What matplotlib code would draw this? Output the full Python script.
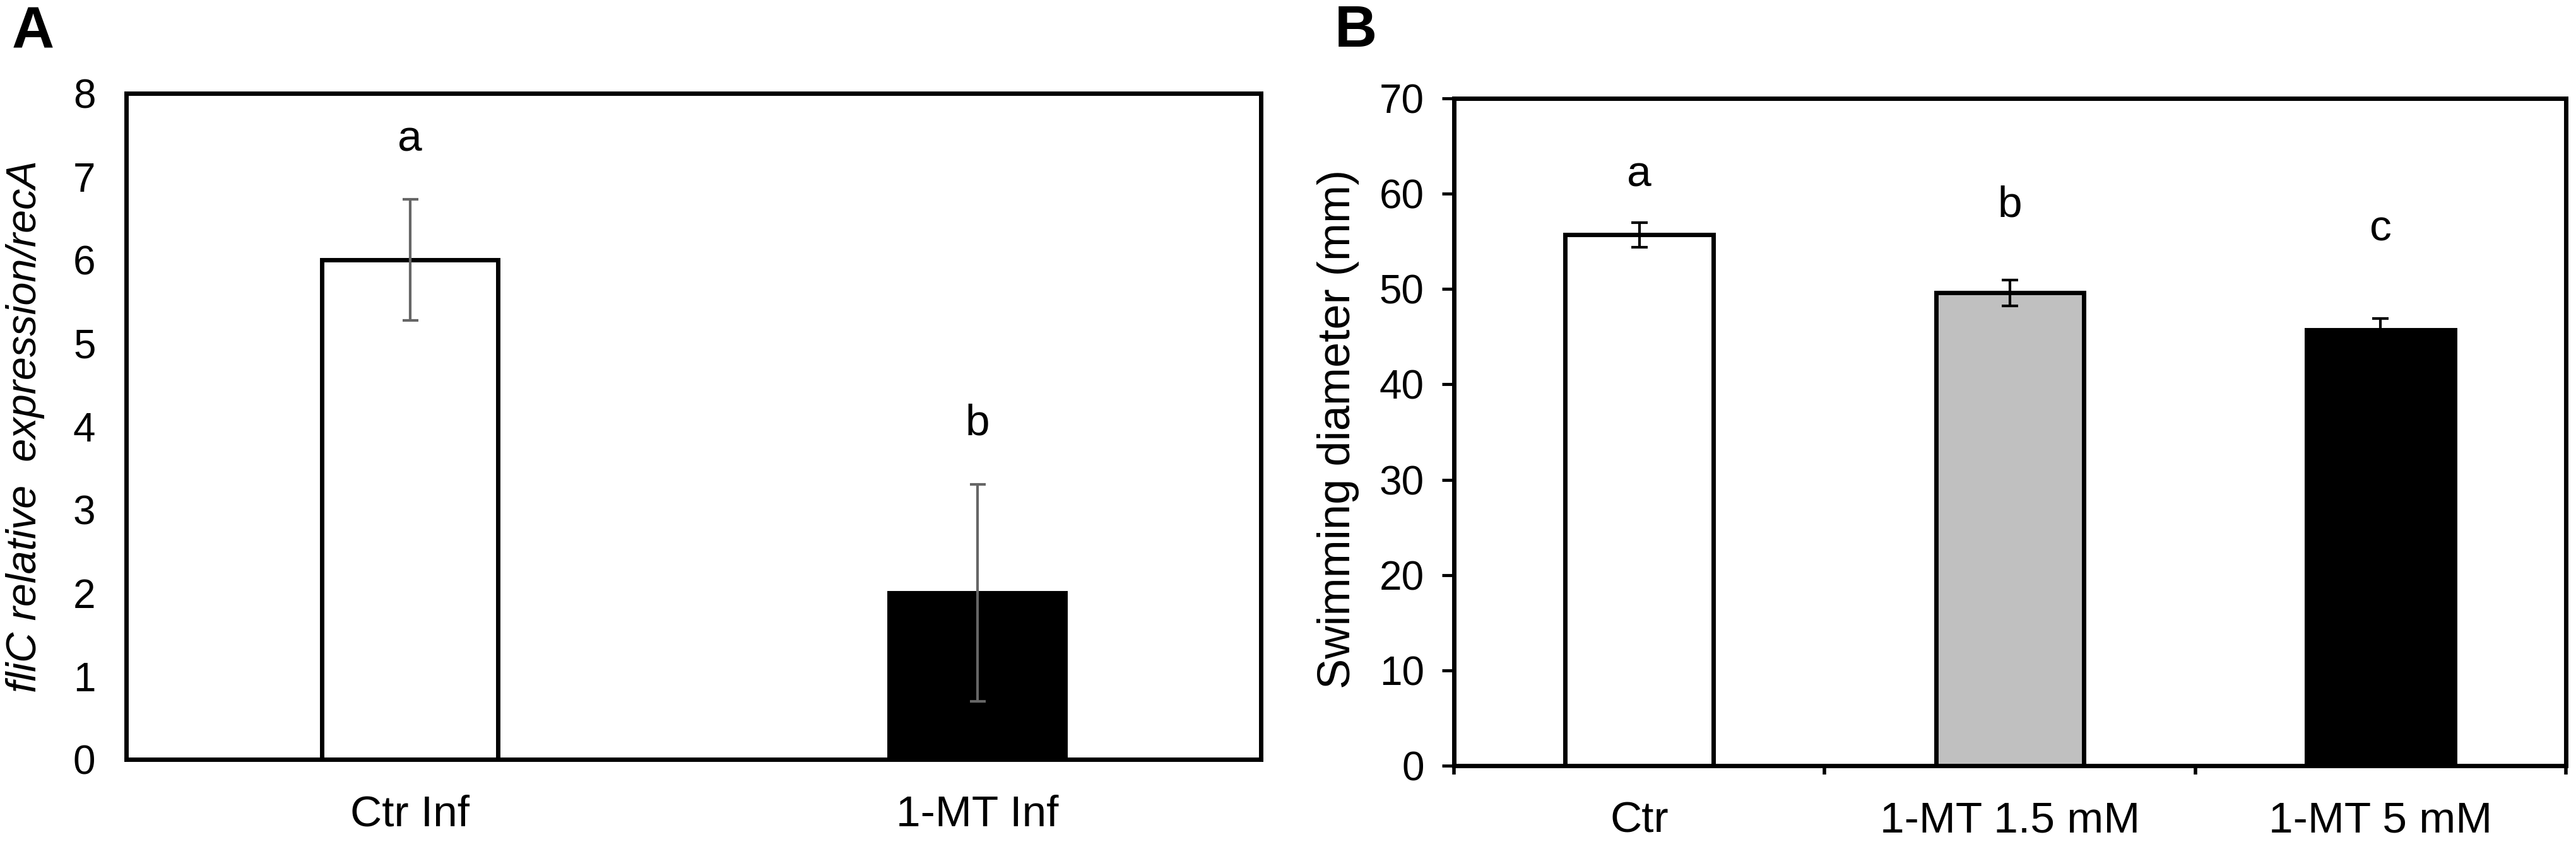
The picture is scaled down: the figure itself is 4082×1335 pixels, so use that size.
import numpy as np
import matplotlib.pyplot as plt

plt.rcParams['font.family'] = ['Liberation Sans', 'DejaVu Sans']

# panel A data
catA = ['Ctr Inf', '1-MT Inf']
valA = [6.0, 2.0]
errA = [0.73, 1.30]
colA = ['white', 'black']
sigA = ['a', 'b']
sigA_y = [7.31, 3.90]

# panel B data
catB = ['Ctr', '1-MT 1.5 mM', '1-MT 5 mM']
valB = [55.7, 49.6, 45.7]
errB = [1.3, 1.35, 1.2]
colB = ['white', '#c0c0c0', 'black']
sigB = ['a', 'b', 'c']
sigB_y = [60.8, 57.6, 55.1]

fig = plt.figure(figsize=(40.82, 13.35), dpi=100)

LW = 5
tick_fs = 46
cat_fs = 50

# ---- A ----
axA = fig.add_axes([0.0490, 0.0981, 0.4405, 0.7910])
xA = np.arange(len(catA))
axA.bar(xA, valA, width=0.31, color=colA, edgecolor='black', linewidth=LW, zorder=2)
axA.errorbar(xA, valA, yerr=errA, fmt='none', ecolor='#666666', elinewidth=3,
             capsize=9, capthick=3, zorder=3)
for i in range(len(catA)):
    axA.text(xA[i], sigA_y[i], sigA[i], ha='center', va='baseline', fontsize=cat_fs)
axA.set_xlim(-0.5, 1.5)
axA.set_ylim(0, 8)
axA.set_yticks(range(0, 9))
axA.set_xticks(xA)
axA.set_xticklabels(catA)
axA.tick_params(axis='y', length=0, pad=35, labelsize=tick_fs)
axA.tick_params(axis='x', length=0, pad=40, labelsize=cat_fs)
for s in axA.spines.values():
    s.set_linewidth(LW)
fig.text(40/4082, 1-676/1335, 'fliC relative  expression/recA', rotation=90,
         ha='center', va='center', fontsize=48, style='italic')
fig.text(19/4082, 1-76/1335, 'A', fontsize=67, fontweight='bold', ha='left', va='baseline')

# ---- B ----
axB = fig.add_axes([0.5644, 0.0906, 0.4317, 0.7925])
xB = np.arange(len(catB))
axB.bar(xB, valB, width=0.40, color=colB, edgecolor='black', linewidth=LW, zorder=2)
axB.errorbar(xB, valB, yerr=errB, fmt='none', ecolor='black', elinewidth=3,
             capsize=9.5, capthick=3, zorder=3)
for i in range(len(catB)):
    axB.text(xB[i], sigB_y[i], sigB[i], ha='center', va='baseline', fontsize=cat_fs)
axB.set_xlim(-0.5, 2.5)
axB.set_ylim(0, 70)
axB.set_yticks(range(0, 71, 10))
axB.set_xticks(np.arange(-0.5, 2.6, 1.0))
axB.set_xticklabels([])
axB.set_xticks(xB, minor=True)
axB.set_xticklabels(catB, minor=True)
axB.tick_params(axis='y', direction='out', length=14, width=3.5, pad=20, labelsize=tick_fs)
axB.tick_params(axis='x', which='major', direction='out', length=10, width=4)
axB.tick_params(axis='x', which='minor', length=0, pad=40, labelsize=cat_fs)
for s in axB.spines.values():
    s.set_linewidth(LW)
fig.text(2120/4082, 1-680/1335, 'Swimming diameter (mm)', rotation=90,
         ha='center', va='center', fontsize=52)
fig.text(2115/4082, 1-74/1335, 'B', fontsize=67, fontweight='bold', ha='left', va='baseline')

fig.savefig('out.png', dpi=100)
